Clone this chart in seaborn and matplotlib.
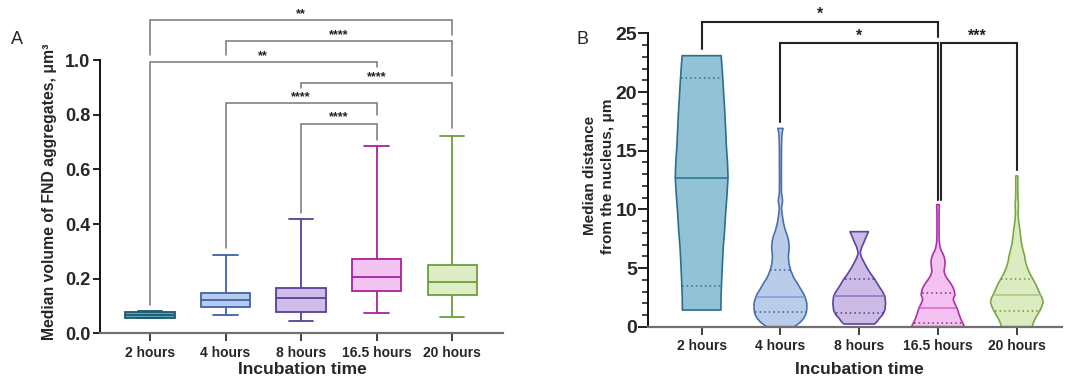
import numpy as np
import pandas as pd
import matplotlib
matplotlib.use("Agg")
import matplotlib.pyplot as plt
import seaborn as sns

# --- Data ---
categories = ["2 hours", "4 hours", "8 hours", "16.5 hours", "20 hours"]

# Panel A: five-number summary of median FND aggregate volume (um^3)
volume_min = [0.055, 0.067, 0.045, 0.073, 0.060]
volume_q1 = [0.058, 0.095, 0.079, 0.156, 0.140]
volume_median = [0.068, 0.122, 0.128, 0.207, 0.189]
volume_q3 = [0.078, 0.146, 0.165, 0.271, 0.252]
volume_max = [0.082, 0.286, 0.418, 0.685, 0.723]

# Panel B: violin profiles (distance level, relative density) per group
dist_levels_2h = [1.42, 2.5, 4.0, 5.5, 6.8, 8.2, 9.7, 11.2, 12.7, 14.0, 15.3,
                  16.8, 18.2, 19.7, 21.2, 22.2, 23.1]
dist_density_2h = [0.73, 0.735, 0.76, 0.79, 0.82, 0.87, 0.91, 0.96, 1.0, 0.98,
                   0.94, 0.91, 0.88, 0.84, 0.80, 0.77, 0.74]
dist_levels_4h = [0.0, 0.2, 0.4, 0.7, 1.1, 1.5, 2.0, 2.4, 2.8, 3.2, 3.7, 4.2,
                  4.8, 5.4, 6.0, 6.4, 6.8, 7.3, 7.7, 8.2, 8.8, 9.5, 10.1, 10.5,
                  10.8, 11.1, 11.4, 12.5, 15.3, 16.0, 16.5, 16.9]
dist_density_4h = [0.52, 0.65, 0.76, 0.88, 0.97, 1.0, 1.0, 0.95, 0.88, 0.77,
                   0.64, 0.50, 0.39, 0.32, 0.30, 0.32, 0.33, 0.31, 0.27, 0.19,
                   0.12, 0.07, 0.04, 0.07, 0.08, 0.06, 0.04, 0.035, 0.04, 0.05,
                   0.06, 0.10]
dist_levels_8h = [0.23, 0.45, 0.7, 1.0, 1.4, 2.0, 2.6, 3.0, 3.4, 4.0, 4.5, 5.0,
                  5.5, 5.9, 6.25, 6.5, 6.8, 7.2, 7.7, 8.1]
dist_density_8h = [0.58, 0.68, 0.76, 0.88, 0.97, 1.0, 0.97, 0.88, 0.76, 0.60,
                   0.44, 0.30, 0.18, 0.09, 0.04, 0.06, 0.10, 0.18, 0.27, 0.35]
dist_levels_16h = [0.0, 0.3, 0.57, 0.85, 1.1, 1.4, 1.7, 2.0, 2.3, 2.5, 2.7, 3.0,
                   3.3, 3.7, 4.0, 4.35, 4.7, 5.1, 5.5, 5.9, 6.25, 6.5, 6.8, 7.2,
                   7.7, 9.7, 10.4]
dist_density_16h = [1.0, 0.94, 0.88, 0.83, 0.79, 0.75, 0.70, 0.63, 0.58, 0.60,
                    0.64, 0.62, 0.58, 0.48, 0.38, 0.28, 0.23, 0.25, 0.27, 0.24,
                    0.18, 0.12, 0.08, 0.05, 0.04, 0.04, 0.05]
dist_levels_20h = [0.0, 0.35, 0.7, 1.05, 1.4, 1.75, 2.1, 2.45, 2.8, 3.25, 3.7,
                   4.1, 4.5, 4.9, 5.3, 5.65, 6.0, 6.5, 7.1, 7.6, 8.2, 9.0, 9.7,
                   10.1, 10.5, 11.0, 11.6, 12.85]
dist_density_20h = [0.58, 0.63, 0.70, 0.79, 0.88, 0.95, 1.0, 0.96, 0.88, 0.79,
                    0.70, 0.60, 0.50, 0.42, 0.36, 0.32, 0.30, 0.24, 0.18, 0.15,
                    0.12, 0.07, 0.05, 0.06, 0.06, 0.045, 0.04, 0.04]
dist_q1 = [3.5, 1.28, 1.2, 0.28, 1.3]
dist_median = [12.7, 2.5, 2.6, 1.6, 2.7]
dist_q3 = [21.2, 4.8, 4.1, 2.9, 4.1]

# Significance brackets
sig_a_pairs = [(0, 4), (1, 4), (0, 3), (2, 4), (1, 3), (2, 3)]
sig_a_labels = ["**", "****", "**", "****", "****", "****"]
sig_a_height = [1.146, 1.069, 0.994, 0.917, 0.844, 0.768]
sig_a_left_end = [1.018, 1.018, 0.104, 0.898, 0.312, 0.440]
sig_a_right_end = [1.091, 0.942, 0.975, 0.751, 0.799, 0.707]

sig_b_pairs = [(0, 3), (1, 3), (3, 4)]
sig_b_labels = ["*", "*", "***"]
sig_b_height = [26.0, 24.15, 24.15]
sig_b_left_end = [23.64, 17.47, 10.8]
sig_b_right_end = [24.66, 10.8, 13.35]

# --- Styling ---
fill_a = ["#5fa3bd", "#b8cbed", "#cdbde8", "#f3c3f2", "#dfedc4"]
edge_a = ["#1d5a70", "#3c63a6", "#5a3e9b", "#a8229f", "#6a9e3a"]
fill_b = ["#92c2d6", "#b9cdea", "#cbbbe5", "#f3c2f0", "#dcebc0"]
edge_b = ["#2b6f8c", "#4a70b0", "#5b45a0", "#b030a8", "#78a848"]
median_b = ["#2b6f8c", "#7f9dd6", "#8a72c4", "#d766cf", "#a6c97e"]
quart_b = ["#2b6f8c", "#3e5f9e", "#4d3a8e", "#902088", "#6a9a40"]

sns.set_style("ticks")
plt.rcParams["font.family"] = ["Liberation Sans", "DejaVu Sans"]

fig = plt.figure(figsize=(10.75, 3.78), dpi=100)
ax_a = fig.add_axes([0.093, 0.118, 0.375, 0.723])
ax_b = fig.add_axes([0.603, 0.1357, 0.385, 0.776])

# --- Panel A: box plot ---
rows = []
for i, cat in enumerate(categories):
    for v in (volume_min[i], volume_q1[i], volume_median[i], volume_q3[i], volume_max[i]):
        rows.append({"time": cat, "volume": v})
df_a = pd.DataFrame(rows)

for i, cat in enumerate(categories):
    sns.boxplot(data=df_a[df_a["time"] == cat], x="time", y="volume", order=categories,
                whis=(0, 100), width=0.65, color=fill_a[i], linecolor=edge_a[i],
                linewidth=1.3, saturation=1, showfliers=False, ax=ax_a)

ax_a.set_xlim(-0.662, 4.675)
ax_a.set_ylim(0, 1.0)
ax_a.set_yticks([0.0, 0.2, 0.4, 0.6, 0.8, 1.0])
ax_a.set_yticklabels(["0.0", "0.2", "0.4", "0.6", "0.8", "1.0"])


def draw_brackets(ax, pairs, labels, heights, left_end, right_end, color, lw, fs,
                  left_shift=None):
    for k, (a, b) in enumerate(pairs):
        xa = a + (left_shift[k] if left_shift else 0)
        ax.plot([xa, xa, b, b], [left_end[k], heights[k], heights[k], right_end[k]],
                color=color, lw=lw, clip_on=False, solid_joinstyle="miter")
        ax.text((a + b) / 2, heights[k], labels[k], ha="center", va="bottom",
                fontsize=fs, fontweight="bold", color="#222222", clip_on=False)


draw_brackets(ax_a, sig_a_pairs, sig_a_labels, sig_a_height, sig_a_left_end,
              sig_a_right_end, "#777777", 1.1, 9)

# --- Panel B: violins ---
levels_all = [dist_levels_2h, dist_levels_4h, dist_levels_8h, dist_levels_16h, dist_levels_20h]
density_all = [dist_density_2h, dist_density_4h, dist_density_8h, dist_density_16h, dist_density_20h]
half_width = 0.335

for i, cat in enumerate(categories):
    lv = np.asarray(levels_all[i])
    hw = np.asarray(density_all[i]) * half_width
    xs = np.concatenate([i + hw, (i - hw)[::-1]])
    ys = np.concatenate([lv, lv[::-1]])
    ax_b.fill(xs, ys, facecolor=fill_b[i], edgecolor=edge_b[i], lw=1.2, zorder=2,
              joinstyle="round")
    for q, style, col in ((dist_q1[i], (0, (1, 2)), quart_b[i]),
                          (dist_q3[i], (0, (1, 2)), quart_b[i]),
                          (dist_median[i], "-", median_b[i])):
        w = np.interp(q, lv, hw) * 0.97
        ax_b.plot([i - w, i + w], [q, q], color=col, lw=1.1, ls=style, zorder=3)

ax_b.set_xlim(-0.678, 4.575)
ax_b.set_ylim(0, 25)
ax_b.set_xticks(range(len(categories)))
ax_b.set_xticklabels(categories)
ax_b.set_yticks([0, 5, 10, 15, 20, 25])
ax_b.set_yticks(np.arange(0, 26, 1), minor=True)

draw_brackets(ax_b, sig_b_pairs, sig_b_labels, sig_b_height, sig_b_left_end,
              sig_b_right_end, "#222222", 1.5, 11.5, left_shift=[0, 0, 0.04])

# --- Axes formatting ---
for ax, ysize in ((ax_a, 13), (ax_b, 14)):
    sns.despine(ax=ax)
    ax.spines["left"].set_color("#111111")
    ax.spines["bottom"].set_color("#707070")
    ax.spines["left"].set_linewidth(1.4)
    ax.spines["bottom"].set_linewidth(1.6)
    ax.tick_params(axis="x", length=6, width=1.3, color="#333333", pad=3)
    ax.tick_params(axis="y", length=5, width=1.3, color="#111111", pad=2)
    for lab in ax.get_xticklabels():
        lab.set_fontweight("bold")
        lab.set_fontsize(10)
    for lab in ax.get_yticklabels():
        lab.set_fontweight("bold")
        lab.set_fontsize(ysize)
    ax.set_xlabel("Incubation time", fontsize=12.5, fontweight="bold")

ax_b.tick_params(axis="y", which="major", length=7)
ax_b.tick_params(axis="y", which="minor", length=4, width=1.1, color="#111111")
ax_b.tick_params(axis="y", pad=1)

ax_a.set_ylabel("Median volume of FND aggregates, μm³", fontsize=11.3, fontweight="bold")
ax_b.set_ylabel("Median distance\nfrom the nucleus, μm", fontsize=11, fontweight="bold",
                linespacing=1.35)

ax_a.xaxis.set_label_coords(0.501, -0.104)
ax_a.yaxis.set_label_coords(-0.107, 0.519)
ax_b.xaxis.set_label_coords(0.509, -0.119)
ax_b.yaxis.set_label_coords(-0.080, 0.514)
ax_a.xaxis.label.set_va("top")
ax_b.xaxis.label.set_va("top")

fig.text(17 / 1075, 1 - 40 / 378, "A", fontsize=13, ha="center", va="center")
fig.text(583 / 1075, 1 - 40 / 378, "B", fontsize=13, ha="center", va="center")

fig.savefig("out.png", dpi=100)
plt.close(fig)
